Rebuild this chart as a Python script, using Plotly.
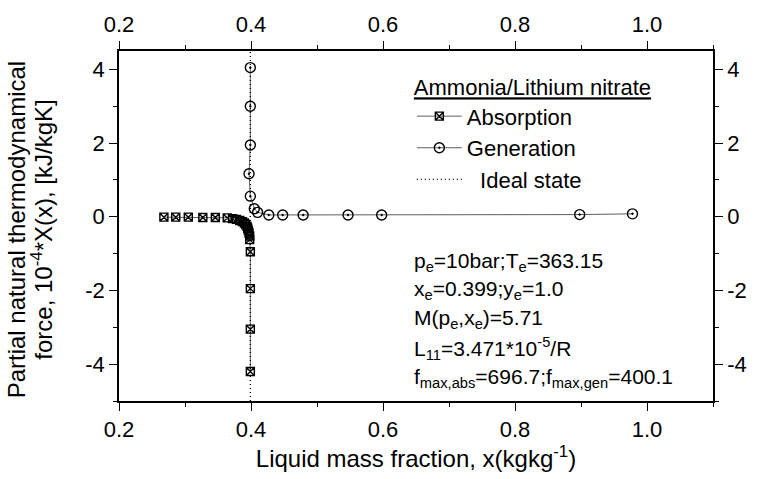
import plotly.graph_objects as go

# Absorption branch (liquid mass fraction, force x 1e-4)
abs_x = [0.268, 0.286, 0.305, 0.327, 0.346, 0.364, 0.372, 0.378, 0.383, 0.387, 0.390,
         0.392, 0.394, 0.395, 0.396, 0.397, 0.398, 0.398, 0.399, 0.399, 0.399, 0.399]
abs_y = [-0.01, -0.01, -0.01, -0.02, -0.02, -0.03, -0.05, -0.07, -0.10, -0.13, -0.17,
         -0.21, -0.26, -0.31, -0.37, -0.44, -0.52, -0.62, -0.95, -1.95, -3.05, -4.20]

# Generation branch
gen_x = [0.399, 0.399, 0.399, 0.397, 0.399, 0.405, 0.410, 0.427, 0.448, 0.479,
         0.547, 0.598, 0.898, 0.978]
gen_y = [4.05, 3.00, 1.95, 1.17, 0.56, 0.22, 0.12, 0.05, 0.05, 0.05,
         0.05, 0.05, 0.06, 0.08]

# Ideal state: x = x_e over the full force range
ideal_x = [0.399, 0.399]
ideal_y = [-5.0, 4.5]

x_range = [0.2, 1.1]
y_range = [-5.0, 4.5]
x_ticks = [0.2, 0.4, 0.6, 0.8, 1.0]
x_ticklabels = ["0.2", "0.4", "0.6", "0.8", "1.0"]
y_ticks = [-4, -2, 0, 2, 4]
y_ticklabels = ["-4", "-2", "0", "2", "4"]

y_title_lines = ["Partial natural thermodynamical",
                 "force, 10<sup>-4</sup>*X(x), [kJ/kgK]"]
y_title_x = [-0.172, -0.131]

info_lines = [
    "p<sub>e</sub>=10bar;T<sub>e</sub>=363.15",
    "x<sub>e</sub>=0.399;y<sub>e</sub>=1.0",
    "M(p<sub>e</sub>,x<sub>e</sub>)=5.71",
    "L<sub>11</sub>=3.471*10<sup>-5</sup>/R",
    "f<sub>max,abs</sub>=696.7;f<sub>max,gen</sub>=400.1",
]
info_y = [0.398, 0.318, 0.235, 0.151, 0.066]

FONT = "Liberation Sans, Arial, sans-serif"

fig = go.Figure()

fig.add_trace(go.Scatter(
    x=abs_x, y=abs_y, mode="lines+markers", name="Absorption",
    line=dict(color="#333", width=0.8),
    marker=dict(symbol="square-x-open", size=8, color="black", line=dict(width=1.4)),
    legendgroup="a",
))
fig.add_trace(go.Scatter(
    x=gen_x, y=gen_y, mode="lines+markers", name="Generation",
    line=dict(color="#333", width=0.8),
    marker=dict(symbol="circle-open-dot", size=10, color="black", line=dict(width=1.4)),
    legendgroup="b",
))
fig.add_trace(go.Scatter(
    x=ideal_x, y=ideal_y, mode="lines", name="&#8201;&#8201;&#8201;Ideal state",
    line=dict(color="black", width=1.3, dash="1px,3px"),
    legendgroup="c",
))
# companion trace for the top / right axes
fig.add_trace(go.Scatter(x=[], y=[], xaxis="x2", yaxis="y2", showlegend=False, hoverinfo="skip"))

axis_common = dict(
    showline=True, linecolor="black", linewidth=1.6, mirror=False,
    ticks="outside", ticklen=8, tickwidth=1.4, tickcolor="black",
    showgrid=False, zeroline=False,
    tickfont=dict(family=FONT, size=22, color="black"),
)

fig.update_layout(
    width=759, height=479,
    margin=dict(l=119, r=31, t=40, b=77),
    paper_bgcolor="white", plot_bgcolor="white",
    font=dict(family=FONT, color="black"),
    xaxis=dict(range=x_range, tickvals=x_ticks, ticktext=x_ticklabels,
               minor=dict(ticks="outside", ticklen=4, tickwidth=1.2, tickcolor="black", dtick=0.1, tick0=0.2),
               title=dict(text="Liquid mass fraction, x(kgkg<sup>-1</sup>)",
                          font=dict(family=FONT, size=24), standoff=8),
               **axis_common),
    yaxis=dict(range=y_range, tickvals=y_ticks, ticktext=y_ticklabels,
               minor=dict(ticks="outside", ticklen=4, tickwidth=1.2, tickcolor="black", dtick=1, tick0=0),
               **axis_common),
    xaxis2=dict(range=x_range, tickvals=x_ticks, ticktext=x_ticklabels, overlaying="x",
                side="top", anchor="y",
                minor=dict(ticks="outside", ticklen=4, tickwidth=1.2, tickcolor="black", dtick=0.1, tick0=0.2),
                **axis_common),
    yaxis2=dict(range=y_range, tickvals=y_ticks, ticktext=y_ticklabels, overlaying="y",
                side="right", anchor="x",
                minor=dict(ticks="outside", ticklen=4, tickwidth=1.2, tickcolor="black", dtick=1, tick0=0),
                **axis_common),
    legend=dict(
        x=0.493, y=0.955, xanchor="left", yanchor="top",
        bgcolor="rgba(0,0,0,0)", borderwidth=0,
        font=dict(family=FONT, size=22, color="black"),
        title=dict(text='<span style="text-decoration:underline">Ammonia/Lithium nitrate</span>',
                   font=dict(family=FONT, size=22)),
        itemwidth=45, tracegroupgap=0,
    ),
    showlegend=True,
)

# two-line y-axis title
for txt, xx in zip(y_title_lines, y_title_x):
    fig.add_annotation(
        x=xx, y=0.49, xref="paper", yref="paper", xanchor="center", yanchor="middle",
        text=txt, textangle=-90, showarrow=False,
        font=dict(family=FONT, size=24, color="black"),
    )

for txt, yy in zip(info_lines, info_y):
    fig.add_annotation(
        x=0.493, y=yy, xref="paper", yref="paper", xanchor="left", yanchor="middle",
        text=txt, showarrow=False, font=dict(family=FONT, size=21, color="black"),
    )

fig.write_html("out.html")
